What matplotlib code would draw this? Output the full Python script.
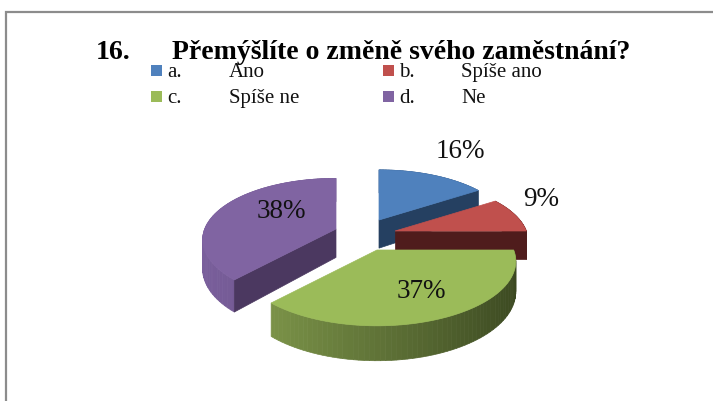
#!/usr/bin/env python3
# -*- coding: utf-8 -*-
import numpy as np
import matplotlib
matplotlib.use('Agg')
import matplotlib.pyplot as plt
from matplotlib.colors import to_rgb

plt.rcParams['font.family'] = ['Liberation Serif', 'DejaVu Serif']

title_num = '16.'
title_text = 'Přemýšlíte o změně svého zaměstnání?'
letters = ['a.', 'b.', 'c.', 'd.']
answers = ['Ano', 'Spíše ano', 'Spíše ne', 'Ne']
values = [16, 9, 37, 38]

top_colors = ['#4f81bd', '#c0504d', '#9bbb59', '#8064a2']
wall_left = ['#2f527c', '#6b2a28', '#86a04f', '#7a5f9c']
wall_right = ['#2f527c', '#4f1c1c', '#3a4720', '#5a4677']
cut_colors = ['#254061', '#4f1c1c', '#4f6228', '#4b3860']

# apex of each exploded slice, pixels
apex = [(379, 220), (395, 231), (377, 250), (336, 229)]
scale = [0.97, 0.98, 1.02, 0.98]
# which cut face the viewer can see: 0 first edge, -1 last edge, None hidden
cut_edge = [-1, -1, None, 0]
label_pos = [(460, 152), (541, 200), (421, 291), (281, 211)]

RX, RY, K, DEPTH = 134, 63, 0.18, 29

fig = plt.figure(figsize=(7.13, 4.01), dpi=100)
ax = fig.add_axes([0, 0, 1, 1])
ax.set_xlim(0, 713)
ax.set_ylim(401, 0)
ax.axis('off')

# frame, only top and left are visible
ax.plot([6, 6, 713], [401, 12, 12], color='#8c8c8c', lw=1.6, solid_joinstyle='miter')


def project(c, f, deg):
    a = np.radians(deg)
    s = 1 - K * np.sin(a)
    return c[0] + f * RX * np.cos(a) * s, c[1] - f * RY * np.sin(a) * s, s


def draw_slice(i, a0, a1):
    c = apex[i]
    f = scale[i]
    angs = np.linspace(a0, a1, 70)
    xs, ys, ss = project(c, f, angs)
    d = DEPTH * f * ss

    # outer wall, shaded from left to right
    c_l, c_r = np.array(to_rgb(wall_left[i])), np.array(to_rgb(wall_right[i]))
    for j in range(len(angs) - 1):
        mid = (angs[j] + angs[j + 1]) / 2
        t = (1 - np.cos(np.radians(mid))) / 2
        col = c_r + (c_l - c_r) * t
        ax.fill([xs[j], xs[j + 1], xs[j + 1], xs[j]],
                [ys[j], ys[j + 1], ys[j + 1] + d[j + 1], ys[j] + d[j]],
                color=col, lw=0.5, zorder=i + 1)

    if cut_edge[i] is not None:
        end = cut_edge[i]
        ax.fill([c[0], xs[end], xs[end], c[0]],
                [c[1], ys[end], ys[end] + d[end], c[1] + DEPTH * f],
                color=cut_colors[i], lw=0.5, zorder=i + 1.2)

    ax.fill(np.r_[c[0], xs], np.r_[c[1], ys], color=top_colors[i], lw=0.5, zorder=i + 1.5)


start = 90.0
for i, v in enumerate(values):
    sweep = v / sum(values) * 360
    draw_slice(i, start, start - sweep)
    start -= sweep

for i, v in enumerate(values):
    ax.text(label_pos[i][0], label_pos[i][1], f'{v}%', fontsize=19.5, ha='center',
            va='center', color='#111111', zorder=10)

ax.text(96, 59, title_num, fontsize=20, fontweight='bold', va='baseline', color='black', zorder=10)
ax.text(172, 59, title_text, fontsize=20, fontweight='bold', va='baseline', color='black', zorder=10)

col_x = [151, 383]
row_y = [71, 97]
for i in range(4):
    x = col_x[i % 2]
    y = row_y[i // 2]
    ax.fill([x, x + 11, x + 11, x], [y - 6, y - 6, y + 5, y + 5], color=top_colors[i], lw=0)
    ax.text(x + 16, y + 6, letters[i], fontsize=15, va='baseline', color='#111111')
    ax.text(x + 78, y + 6, answers[i], fontsize=15, va='baseline', color='#111111')

fig.savefig('out.png', dpi=100)
